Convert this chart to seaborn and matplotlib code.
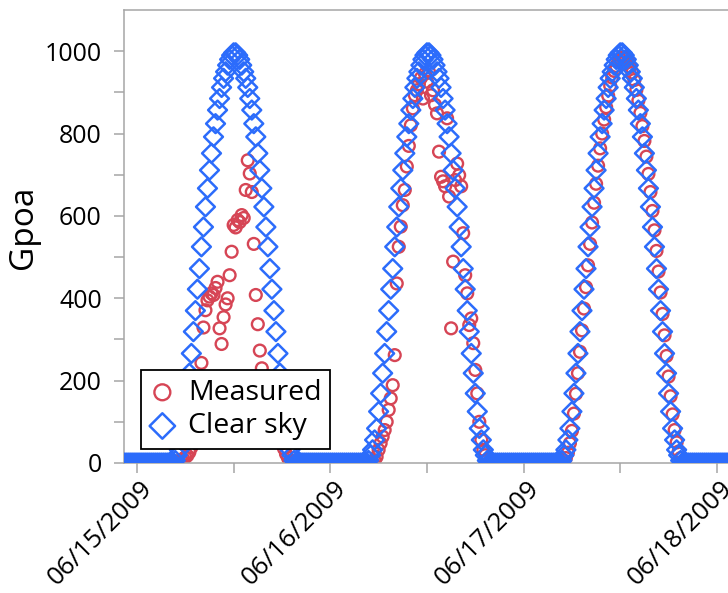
import numpy as np
import pandas as pd
import matplotlib
matplotlib.use("Agg")
import matplotlib.pyplot as plt
import matplotlib.dates as mdates
import matplotlib.ticker as mticker
import matplotlib.transforms as mtransforms
import seaborn as sns

# ---------------- data (15-minute samples, daytime 04:30 .. 19:45) ----------------
days = ["2009-06-15", "2009-06-16", "2009-06-17"]
first_sample = "04:30"
sample_step = "15min"

clear_0615 = [0, 6, 19, 32, 56, 84, 125, 169, 218, 266, 319, 370, 422, 472, 525, 573,
              622, 667, 711, 752, 792, 824, 857, 885, 912, 934, 950, 966, 980, 990, 996,
              996, 990, 980, 966, 950, 934, 912, 885, 857, 824, 792, 752, 711, 667, 622,
              573, 525, 472, 422, 370, 319, 266, 218, 169, 125, 84, 56, 32, 19, 6, 0]
clear_0616 = [0, 6, 19, 32, 56, 84, 125, 169, 218, 266, 319, 370, 422, 472, 525, 573,
              622, 667, 711, 752, 792, 824, 857, 885, 912, 934, 950, 966, 980, 990, 996,
              996, 990, 980, 966, 950, 934, 912, 885, 857, 824, 792, 752, 711, 667, 622,
              573, 525, 472, 422, 370, 319, 266, 218, 169, 125, 84, 56, 32, 19, 6, 0]
clear_0617 = [0, 6, 19, 32, 56, 84, 125, 169, 218, 266, 319, 370, 422, 472, 525, 573,
              622, 667, 711, 752, 792, 824, 857, 885, 912, 934, 950, 966, 980, 990, 996,
              996, 990, 980, 966, 950, 934, 912, 885, 857, 824, 792, 752, 711, 667, 622,
              573, 525, 472, 422, 370, 319, 266, 218, 169, 125, 84, 56, 32, 19, 6, 0]

meas_0615 = [0, 0, 3, 5, 8, 10, 14, 18, 26, 38, 58, 90, 130, 180, 243, 329,
             371, 395, 404, 412, 408, 425, 440, 327, 289, 354, 385, 400, 456, 513, 578,
             572, 590, 585, 602, 595, 663, 735, 703, 658, 532, 408, 337, 273, 230, 200,
             175, 150, 130, 110, 95, 80, 70, 60, 48, 35, 22, 12, 5, 0, 0, 0]
meas_0616 = [0, 0, 0, 2, 6, 15, 32, 48, 64, 80, 100, 129, 157, 189, 262, 436,
             525, 574, 626, 663, 720, 770, 820, 861, 893, 905, 920, 935, 885, 945, 926,
             950, 893, 905, 870, 849, 756, 695, 684, 672, 837, 647, 327, 489, 687, 727,
             699, 672, 558, 456, 412, 335, 351, 291, 226, 169, 100, 56, 32, 19, 8, 0]
meas_0617 = [0, 2, 6, 12, 25, 48, 78, 120, 168, 218, 270, 322, 375, 427, 480, 532,
             584, 632, 678, 722, 764, 800, 834, 864, 892, 916, 936, 952, 964, 974, 980,
             984, 985, 982, 974, 962, 948, 930, 906, 880, 850, 818, 782, 744, 702, 658,
             612, 565, 515, 465, 414, 362, 310, 260, 210, 162, 118, 80, 50, 28, 12, 0]

series_names = ["Measured", "Clear sky"]
y_ticks = [0, 200, 400, 600, 800, 1000]
y_label = "Gpoa"

# ---------------- build the time series (night = 0) ----------------
times = pd.date_range("2009-06-14 22:00", "2009-06-18 04:00", freq=sample_step)
meas = pd.Series(0.0, index=times)
clear = pd.Series(0.0, index=times)
for d, m, c in zip(days, [meas_0615, meas_0616, meas_0617],
                   [clear_0615, clear_0616, clear_0617]):
    idx = pd.date_range(f"{d} {first_sample}", periods=len(m), freq=sample_step)
    meas.loc[idx] = m
    clear.loc[idx] = c
df = pd.DataFrame({"time": times, "Measured": meas.values, "Clear sky": clear.values})

# ---------------- style ----------------
sns.set_style("ticks")
plt.rcParams["font.family"] = ["Open Sans", "DejaVu Sans"]
plt.rcParams["text.color"] = "black"
plt.rcParams["axes.labelcolor"] = "black"
plt.rcParams["xtick.labelcolor"] = "black"
plt.rcParams["ytick.labelcolor"] = "black"

RED = "#D64555"
BLUE = "#2C6CFB"
GRAY = "#A6A6A6"

W, H = 728, 593
fig = plt.figure(figsize=(W / 100, H / 100), dpi=100)
ax = fig.add_axes([124 / W, 130 / H, (745 - 124) / W, 453 / H])

sns.scatterplot(data=df, x="time", y="Measured", ax=ax, marker="o", s=72,
                color=RED, facecolors="none", edgecolor=RED, linewidth=1.7,
                label=series_names[0], zorder=2)
sns.scatterplot(data=df, x="time", y="Clear sky", ax=ax, marker="D", s=92,
                color=BLUE, facecolors="none", edgecolor=BLUE, linewidth=1.8,
                label=series_names[1], zorder=3)

# axes limits
px_per_day = 193.3
x0 = mdates.date2num(pd.Timestamp(days[0])) - 13 / px_per_day
x1 = x0 + (745 - 124) / px_per_day
ax.set_xlim(x0, x1)
ax.set_ylim(0, 1100)

# y axis
ax.set_yticks(y_ticks)
ax.yaxis.set_minor_locator(mticker.FixedLocator([100, 300, 500, 700, 900]))
ax.tick_params(axis="y", which="both", direction="out", length=7, width=1.1,
               color=GRAY, labelsize=18, pad=9)
ax.set_ylabel(y_label, fontsize=24)
ax.yaxis.set_label_coords(-0.136, 0.52)

# x axis
ax.xaxis.set_major_locator(mdates.DayLocator())
ax.xaxis.set_minor_locator(mdates.HourLocator(byhour=[12]))
ax.xaxis.set_major_formatter(mdates.DateFormatter("%m/%d/%Y"))
ax.tick_params(axis="x", which="both", direction="out", length=7, width=1.1,
               color=GRAY, labelsize=18.5, pad=9)
ax.set_xlabel("")
offset = mtransforms.ScaledTranslation(12 / 100, 0, fig.dpi_scale_trans)
for lbl in ax.get_xticklabels():
    lbl.set_rotation(45)
    lbl.set_ha("right")
    lbl.set_va("center")
    lbl.set_rotation_mode("anchor")
    lbl.set_transform(lbl.get_transform() + offset)

for side in ["left", "bottom", "top", "right"]:
    ax.spines[side].set_color(GRAY)
    ax.spines[side].set_linewidth(1.1)
    ax.spines[side].set_visible(True)

# legend
leg = ax.legend(loc="lower left", bbox_to_anchor=(141 / W, 1 - 449 / H),
                bbox_transform=fig.transFigure, borderaxespad=0, frameon=True,
                fancybox=False, fontsize=20.5, markerscale=1.35, handlelength=0.9,
                handletextpad=0.45, borderpad=0.3, labelspacing=0.2)
leg.get_frame().set_edgecolor("black")
leg.get_frame().set_linewidth(1.3)
leg.get_frame().set_alpha(1)
leg.set_zorder(10)

fig.savefig("out.png", dpi=100)
